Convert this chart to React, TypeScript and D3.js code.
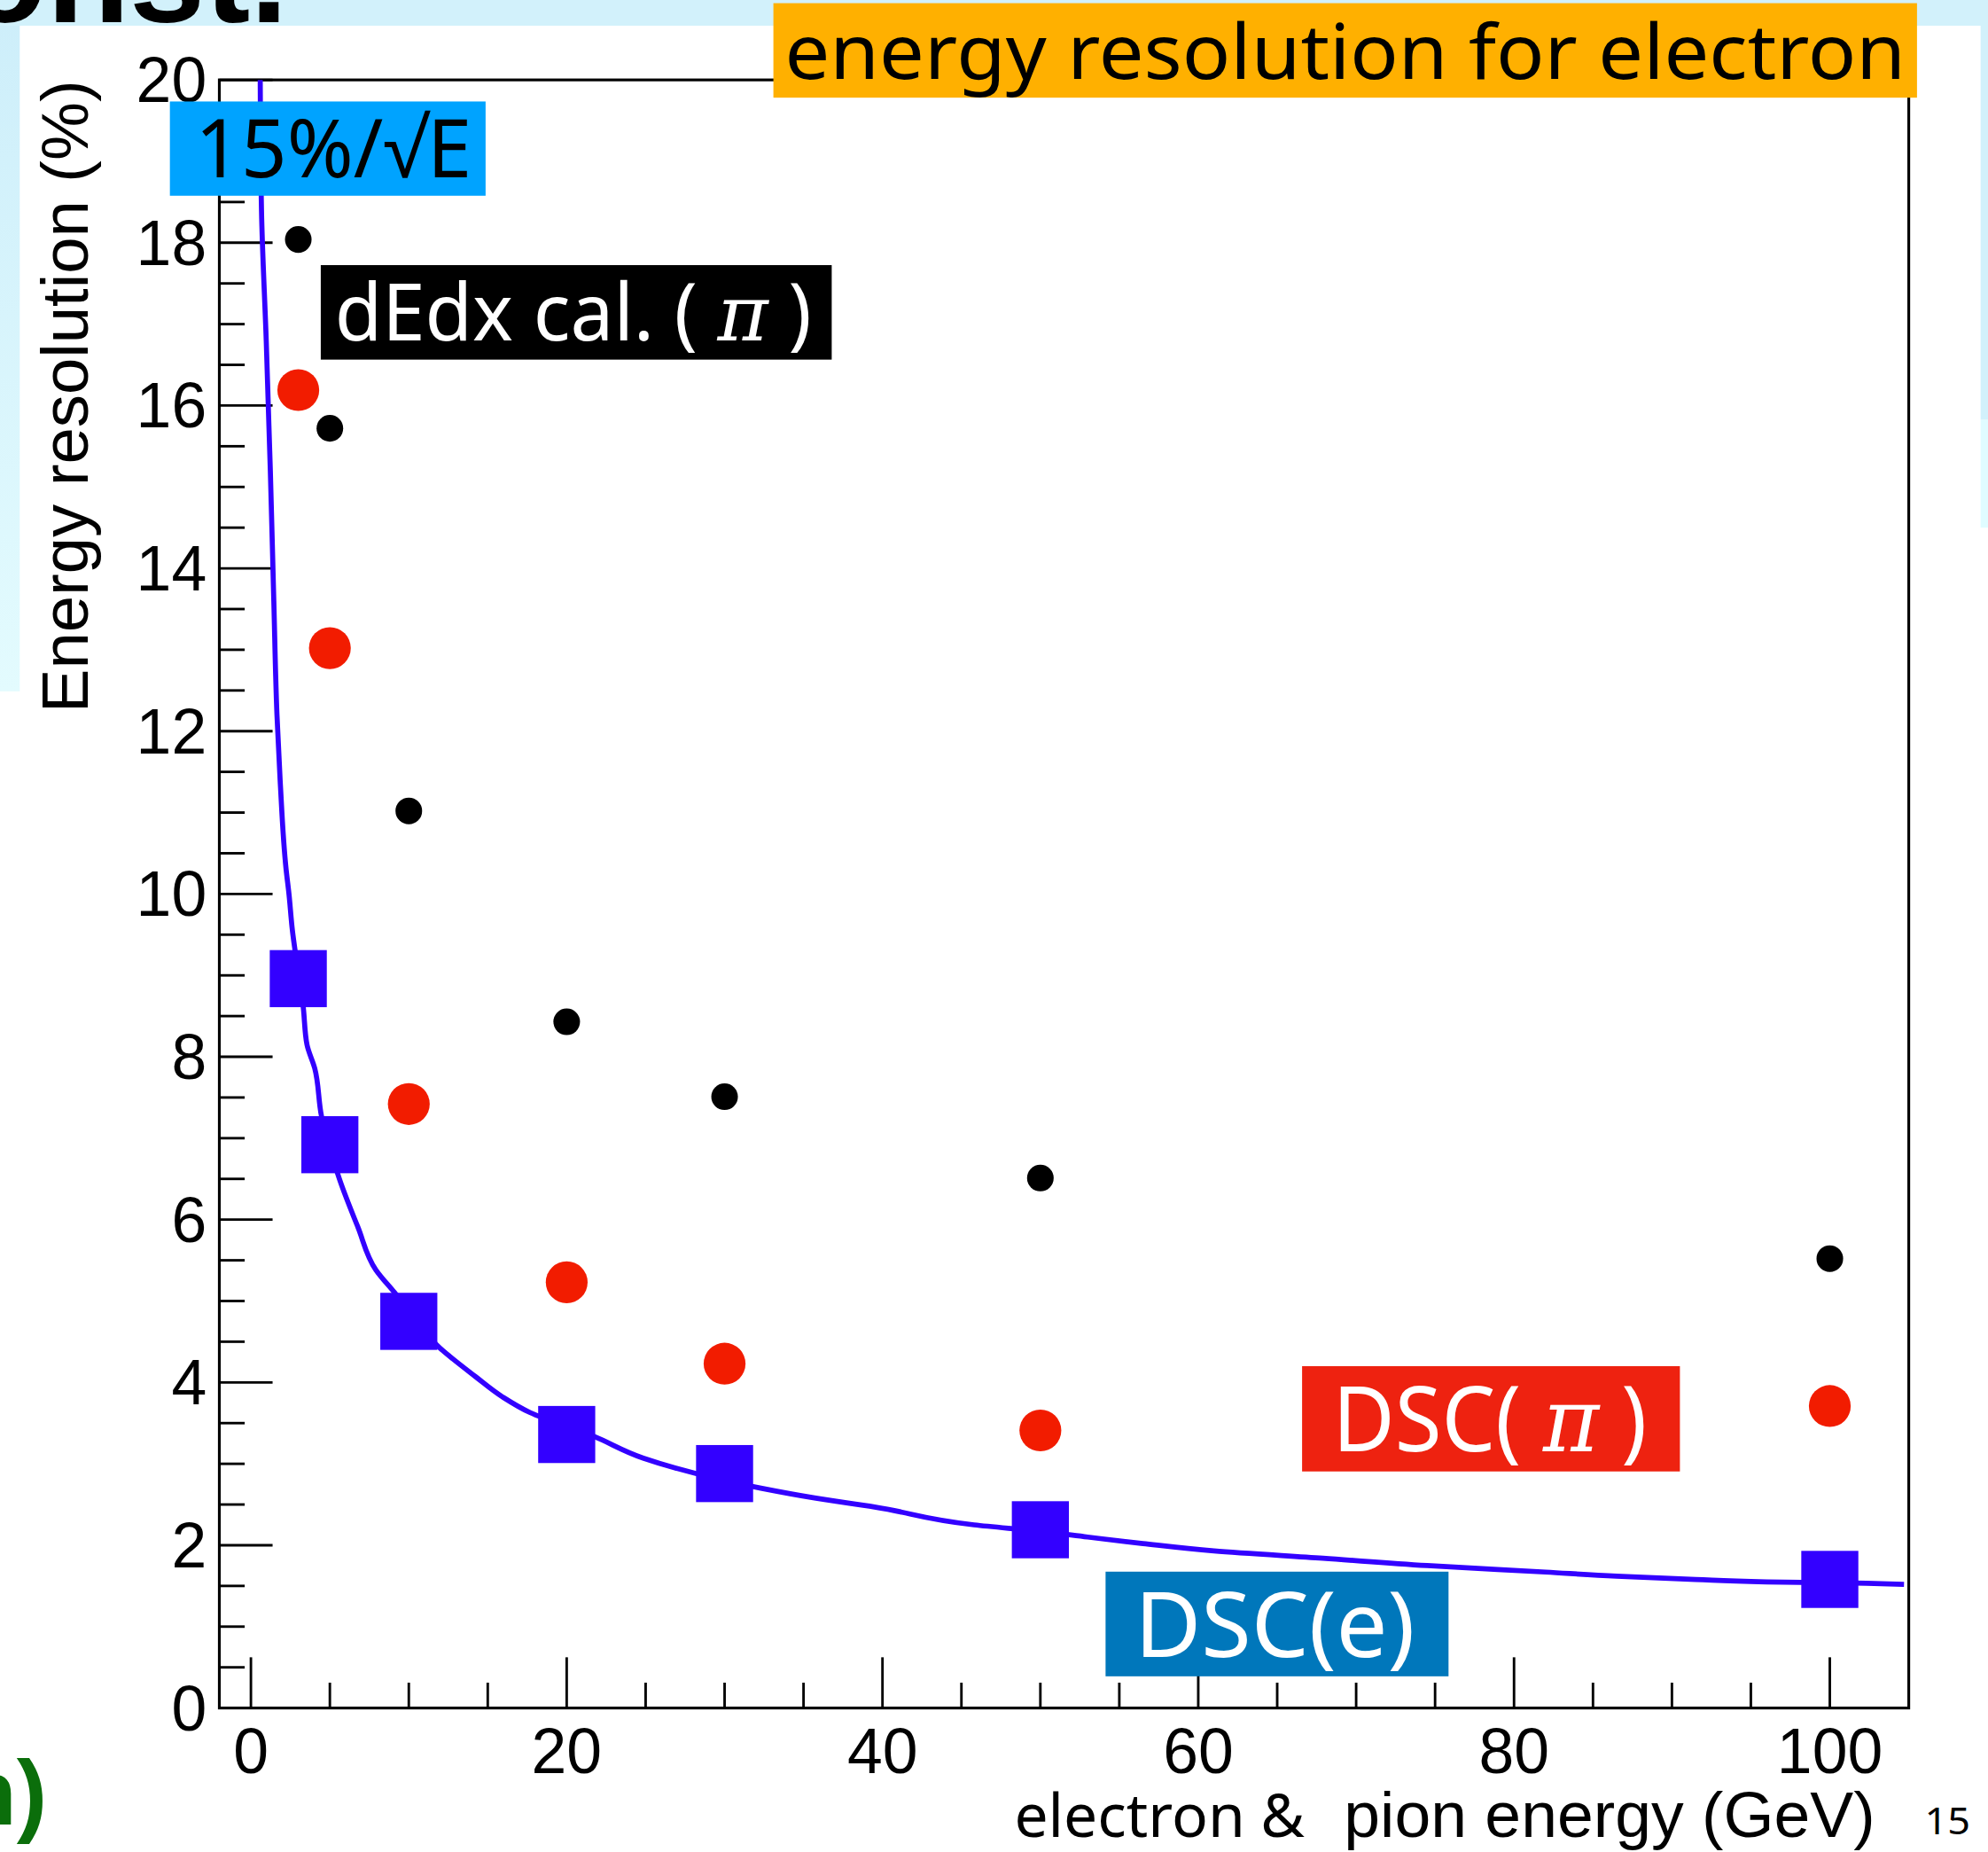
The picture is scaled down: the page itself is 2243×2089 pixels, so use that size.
import React from 'react';
import * as d3 from 'd3';

// ---- data ----
const energies = [3, 5, 10, 20, 30, 50, 100];
const dedxPi = [18.04, 15.72, 11.02, 8.43, 7.51, 6.51, 5.52];
const dscPi = [16.19, 13.02, 7.42, 5.23, 4.23, 3.41, 3.71];
const dscE = [8.96, 6.92, 4.75, 3.36, 2.88, 2.19, 1.58];

// curve "15%/sqrt(E)" as traced on the picture
const curveE = [0.59, 0.67, 0.97, 1.23, 1.45, 1.65, 1.85, 2.23, 2.41, 2.6, 3.32, 3.55, 4.04, 4.47, 5.62, 6.77, 7.92, 9.07, 11.93, 14.23, 15.95, 17.67, 21.69, 24.85, 26.86, 32.3, 35.7, 39.5, 45.8, 50, 53, 56.5, 61, 67.9, 74.5, 82, 86.5, 91.5, 96, 100, 104.7];
const curveRes = [20.0, 18.4, 16.8, 15.2, 13.6, 12.2, 11.4, 10.3, 10.0, 9.6, 8.6, 8.15, 7.86, 7.27, 6.49, 5.91, 5.38, 5.11, 4.43, 4.07, 3.82, 3.63, 3.34, 3.07, 2.95, 2.70, 2.58, 2.47, 2.25, 2.17, 2.10, 2.02, 1.93, 1.84, 1.75, 1.67, 1.62, 1.58, 1.55, 1.54, 1.52];

const xMajorTicks = [0, 20, 40, 60, 80, 100];
const yMajorTicks = [0, 2, 4, 6, 8, 10, 12, 14, 16, 18, 20];
const xMinorTicks = d3.range(0, 101, 5).filter((v) => v % 20 !== 0);
const yMinorTicks = d3.range(0, 20.01, 0.5).filter((v) => v % 2 !== 0);

const W = 1568;
const H = 1460;

const HELV = "'Liberation Sans', Arial, Helvetica, sans-serif";
const JP = "'Noto Sans', 'Open Sans', sans-serif";
const SERIF = "'DejaVu Serif', 'Liberation Serif', serif";

export default function App() {
  const x = d3.scaleLinear().domain([-2, 105]).range([173, 1505.5]);
  const y = d3.scaleLinear().domain([0, 20]).range([1346.5, 63]);

  const linePath = d3
    .line<number>()
    .x((_, i) => x(curveE[i]))
    .y((d) => y(d))
    .curve(d3.curveMonotoneY)(curveRes) as string;

  const [x0, x1] = x.range();
  const [yb, yt] = y.range();

  return (
    <svg
      width={2243}
      height={2089}
      viewBox={`0 0 ${W} ${H}`}
      preserveAspectRatio="none"
      style={{ position: 'absolute', left: 0, top: 0, display: 'block' }}
    >
      <defs>
        <linearGradient id="leftStrip" x1="0" y1="0" x2="0" y2="1">
          <stop offset="0" stopColor="#cdeefa" />
          <stop offset="1" stopColor="#e3fbfe" />
        </linearGradient>
      </defs>
      {/* slide background */}
      <rect x={0} y={0} width={W} height={H} fill="#ffffff" />
      <rect x={0} y={0} width={16} height={545} fill="url(#leftStrip)" />
      <rect x={0} y={0} width={W} height={20.3} fill="#d2f1fb" />
      <rect x={1562} y={0} width={6} height={331} fill="#d2f1fb" />
      <rect x={1562} y={331} width={6} height={85} fill="#e0fcff" />
      <text x={227} y={17.5} textAnchor="end" fontFamily={HELV} fontWeight="bold" fontSize={107} fill="#000">
        onst.
      </text>
      {/* plot panel */}
      <rect x={15.6} y={20.3} width={1562 - 15.6} height={H - 20.3} fill="#ffffff" />

      {/* frame */}
      <rect x={x0} y={yt} width={x1 - x0} height={yb - yt} fill="none" stroke="#000" strokeWidth={2.2} />

      {/* y ticks */}
      {yMajorTicks.map((v) => (
        <line key={'ym' + v} x1={x0} x2={x0 + 42} y1={y(v)} y2={y(v)} stroke="#000" strokeWidth={2} />
      ))}
      {yMinorTicks.map((v) => (
        <line key={'yn' + v} x1={x0} x2={x0 + 20} y1={y(v)} y2={y(v)} stroke="#000" strokeWidth={2} />
      ))}
      {yMajorTicks.map((v) => (
        <text key={'yl' + v} x={163} y={y(v) + 17.5} textAnchor="end" fontFamily={HELV} fontSize={50} fill="#000">
          {v}
        </text>
      ))}

      {/* x ticks */}
      {xMajorTicks.map((v) => (
        <line key={'xm' + v} x1={x(v)} x2={x(v)} y1={yb} y2={yb - 40} stroke="#000" strokeWidth={2} />
      ))}
      {xMinorTicks.map((v) => (
        <line key={'xn' + v} x1={x(v)} x2={x(v)} y1={yb} y2={yb - 20} stroke="#000" strokeWidth={2} />
      ))}
      {xMajorTicks.map((v) => (
        <text key={'xl' + v} x={x(v)} y={1398} textAnchor="middle" fontFamily={HELV} fontSize={50} fill="#000">
          {v}
        </text>
      ))}

      {/* axis titles */}
      <text
        transform="translate(69,562) rotate(-90)"
        fontFamily={HELV}
        fontSize={52}
        textLength={499}
        lengthAdjust="spacingAndGlyphs"
        fill="#000"
      >
        Energy resolution (%)
      </text>
      <text x={800} y={1448} fontFamily={JP} fontSize={47} textLength={229} lengthAdjust="spacingAndGlyphs" fill="#000">
        electron &amp;
      </text>
      <text x={1060} y={1448} fontFamily={HELV} fontSize={50} textLength={419} lengthAdjust="spacingAndGlyphs" fill="#000">
        pion energy (GeV)
      </text>

      {/* curve */}
      <path d={linePath} fill="none" stroke="#3300ff" strokeWidth={4} strokeLinejoin="round" />

      {/* markers */}
      {energies.map((e, i) => (
        <circle key={'k' + e} cx={x(e)} cy={y(dedxPi[i])} r={10.5} fill="#000" />
      ))}
      {energies.map((e, i) => (
        <circle key={'r' + e} cx={x(e)} cy={y(dscPi[i])} r={16.5} fill="#f21c00" />
      ))}
      {energies.map((e, i) => (
        <rect key={'b' + e} x={x(e) - 22.5} y={y(dscE[i]) - 22.5} width={45} height={45} fill="#3300ff" />
      ))}

      {/* annotation boxes */}
      <rect x={610} y={2.5} width={902} height={74.5} fill="#ffb000" />
      <text x={619} y={62} fontFamily={JP} fontSize={60} textLength={884} lengthAdjust="spacingAndGlyphs" fill="#000">
        energy resolution for electron
      </text>

      <rect x={134} y={80} width={249} height={74.3} fill="#00a3ff" />
      <text x={154} y={140} fontFamily={JP} fontSize={64} textLength={218} lengthAdjust="spacingAndGlyphs" fill="#000">
        15%/√E
      </text>

      <rect x={253} y={209} width={403} height={74.5} fill="#000" />
      <text x={264} y={268.5} fontFamily={JP} fontSize={62} textLength={376} lengthAdjust="spacingAndGlyphs" fill="#fff">
        {'dEdx cal. ( '}
        <tspan fontFamily={SERIF} fontStyle="italic">π</tspan>
        {' )'}
      </text>

      <rect x={1027} y={1077} width={298} height={83} fill="#ee2210" />
      <text x={1051} y={1144} fontFamily={JP} fontSize={71} textLength={248} lengthAdjust="spacingAndGlyphs" fill="#fff">
        {'DSC( '}
        <tspan fontFamily={SERIF} fontStyle="italic">π</tspan>
        {' )'}
      </text>

      <rect x={872} y={1239} width={270.5} height={82.5} fill="#0077bb" />
      <text x={895} y={1306} fontFamily={JP} fontSize={71} textLength={221} lengthAdjust="spacingAndGlyphs" fill="#fff">
        DSC(e)
      </text>

      {/* slide leftovers */}
      <text x={37} y={1438} textAnchor="end" fontFamily={HELV} fontWeight="bold" fontSize={72} fill="#0b6e0b">
        n)
      </text>
      <text x={1518} y={1446} fontFamily={JP} fontSize={29} textLength={36} lengthAdjust="spacingAndGlyphs" fill="#000">
        15
      </text>
    </svg>
  );
}
